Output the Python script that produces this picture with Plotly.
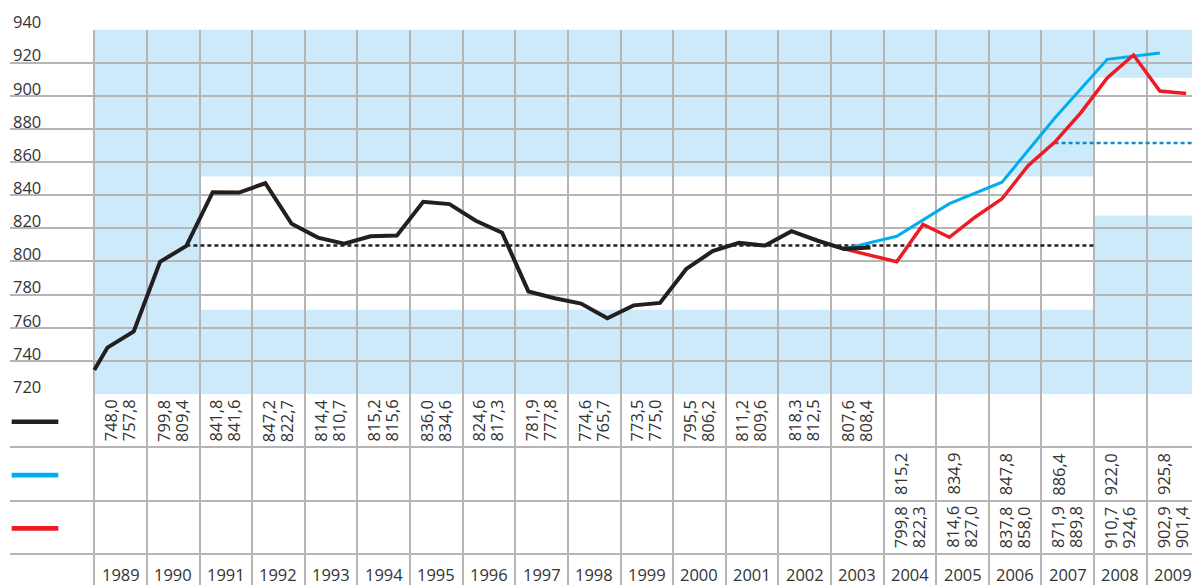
import plotly.graph_objects as go

# ---------------- data ----------------
years = list(range(1989, 2010))
y_ticks = [720, 740, 760, 780, 800, 820, 840, 860, 880, 900, 920, 940]

black_years = list(range(1989, 2004))
black_start = 734.5          # line value read at the left edge of 1989
black_h1 = [748.0, 799.8, 841.8, 847.2, 814.4, 815.2, 836.0, 824.6, 781.9,
            774.6, 773.5, 795.5, 811.2, 818.3, 807.6]
black_h2 = [757.8, 809.4, 841.6, 822.7, 810.7, 815.6, 834.6, 817.3, 777.8,
            765.7, 775.0, 806.2, 809.6, 812.5, 808.4]

blue_years = list(range(2004, 2010))
blue_vals = [815.2, 834.9, 847.8, 886.4, 922.0, 925.8]

red_years = list(range(2004, 2010))
red_h1 = [799.8, 814.6, 837.8, 871.9, 910.7, 902.9]
red_h2 = [822.3, 827.0, 858.0, 889.8, 924.6, 901.4]

ref_black_val = 809.6
ref_black_x = [1990.75, 2008.0]
ref_blue_val = 871.5
ref_blue_x = [2007.25, 2010.5]

band_all = [720, 940]
band1_years = [1991, 2008]
band1 = [770.8, 851.3]
band2_years = [2008, 2010.5]
band2 = [827.8, 910.9]

def fmt(v):
    return f"{v:.1f}".replace(".", ",")

# ---------------- style ----------------
BLACK = "#231f20"
BLUE = "#00aeef"
RED = "#ed1c24"
LIGHT = "#cceafa"
GRID = "#b5b5b5"
TXT = "#333333"
FONT = "Open Sans"
FS = 16.5

X0, X1 = 1987.398, 2009.861
Y_SPLIT = 1 - 394 / 585
Y_TOP = 1 - 29.5 / 585

fig = go.Figure()

# black line
bx = [black_years[0]]
by = [black_start]
for yr, a, b in zip(black_years, black_h1, black_h2):
    bx += [yr + 0.25, yr + 0.75]
    by += [a, b]

# blue line starts at the 2003 H1 black point
ux = [black_years[-1] + 0.25] + [yr + 0.25 for yr in blue_years]
uy = [black_h1[-1]] + blue_vals

# red line
rx = [black_years[-1] + 0.25]
ry = [black_h1[-1]]
for yr, a, b in zip(red_years, red_h1, red_h2):
    rx += [yr + 0.25, yr + 0.75]
    ry += [a, b]

fig.add_trace(go.Scatter(x=ref_black_x, y=[ref_black_val] * 2, mode="lines",
                         line=dict(color=BLACK, width=2.5, dash="4px,3px"),
                         hoverinfo="skip", showlegend=False))
fig.add_trace(go.Scatter(x=ref_blue_x, y=[ref_blue_val] * 2, mode="lines",
                         line=dict(color="#0a8ec6", width=2.5, dash="4px,3px"),
                         hoverinfo="skip", showlegend=False))
fig.add_trace(go.Scatter(x=ux, y=uy, mode="lines",
                         line=dict(color=BLUE, width=3), showlegend=False))
fig.add_trace(go.Scatter(x=rx, y=ry, mode="lines",
                         line=dict(color=RED, width=3.5), showlegend=False))
fig.add_trace(go.Scatter(x=bx, y=by, mode="lines",
                         line=dict(color=BLACK, width=4), showlegend=False))

# invisible trace on the table axes so they render
fig.add_trace(go.Scatter(x=[years[0]], y=[0.5], xaxis="x2", yaxis="y2",
                         mode="markers", marker=dict(opacity=0),
                         hoverinfo="skip", showlegend=False))

shapes = []
shapes.append(dict(type="rect", xref="x", yref="y", x0=years[0], x1=band2_years[1],
                   y0=band_all[0], y1=band_all[1], fillcolor=LIGHT,
                   line=dict(width=0), layer="below"))
shapes.append(dict(type="rect", xref="x", yref="y", x0=band1_years[0], x1=band1_years[1],
                   y0=band1[0], y1=band1[1], fillcolor="white",
                   line=dict(width=0), layer="below"))
shapes.append(dict(type="rect", xref="x", yref="y", x0=band2_years[0], x1=band2_years[1],
                   y0=band2[0], y1=band2[1], fillcolor="white",
                   line=dict(width=0), layer="below"))
# legend keys in the table
for row, col in zip([0.52, 1.52, 2.52], [BLACK, BLUE, RED]):
    shapes.append(dict(type="line", xref="x2", yref="y2", x0=1987.43, x1=1988.316,
                       y0=row, y1=row, line=dict(color=col, width=4.7)))

ann = []
def cell(yr, row, text, shift):
    ann.append(dict(x=yr + 0.5, y=row, xref="x2", yref="y2", text=text,
                    textangle=-90, showarrow=False, xshift=shift,
                    xanchor="center", yanchor="middle",
                    font=dict(family=FONT, size=FS, color=TXT)))

for yr, a, b in zip(black_years, black_h1, black_h2):
    cell(yr, 0.5, fmt(a), -10)
    cell(yr, 0.5, fmt(b), 8)
for yr, v in zip(blue_years, blue_vals):
    cell(yr, 1.5, fmt(v), -10)
for yr, a, b in zip(red_years, red_h1, red_h2):
    cell(yr, 2.5, fmt(a), -10)
    cell(yr, 2.5, fmt(b), 8)
for yr in years:
    ann.append(dict(x=yr + 0.5, y=3.5, xref="x2", yref="y2", text=str(yr),
                    showarrow=False, yshift=6, xanchor="center", yanchor="middle",
                    font=dict(family=FONT, size=FS, color=TXT)))

axis_x = dict(range=[X0, X1], domain=[0, 1], tickvals=years, showticklabels=False,
              showgrid=True, gridcolor=GRID, gridwidth=1.5, zeroline=False,
              ticks="", showline=False, fixedrange=True, automargin=False)

fig.update_layout(
    width=1192, height=585, autosize=False,
    margin=dict(l=10, r=0, t=0, b=0, pad=0, autoexpand=False),
    paper_bgcolor="white", plot_bgcolor="white",
    font=dict(family=FONT, color=TXT),
    showlegend=False,
    xaxis=dict(axis_x, anchor="y"),
    xaxis2=dict(axis_x, anchor="y2"),
    yaxis=dict(domain=[Y_SPLIT, Y_TOP], range=[band_all[0], band_all[1]],
               tickvals=y_ticks, showgrid=True, gridcolor=GRID, gridwidth=1.5,
               zeroline=False, showline=False, ticks="",
               ticklabelposition="inside", ticklabeloverflow="allow",
               ticklabelshift=-7, ticklabelstandoff=0, automargin=False,
               fixedrange=True,
               tickfont=dict(family=FONT, size=FS, color=TXT), anchor="x"),
    yaxis2=dict(domain=[0, Y_SPLIT], range=[3.581, 0], tickvals=[0, 1, 2, 3],
                showticklabels=False, showgrid=True, gridcolor=GRID, gridwidth=1.5,
                zeroline=False, showline=False, ticks="", anchor="x2",
                automargin=False, fixedrange=True),
    shapes=shapes,
    annotations=ann,
)

fig.write_html(
    "out.html",
    config={"displayModeBar": False, "responsive": False},
    post_script="document.body.style.margin='0';document.body.style.overflow='hidden';",
)
